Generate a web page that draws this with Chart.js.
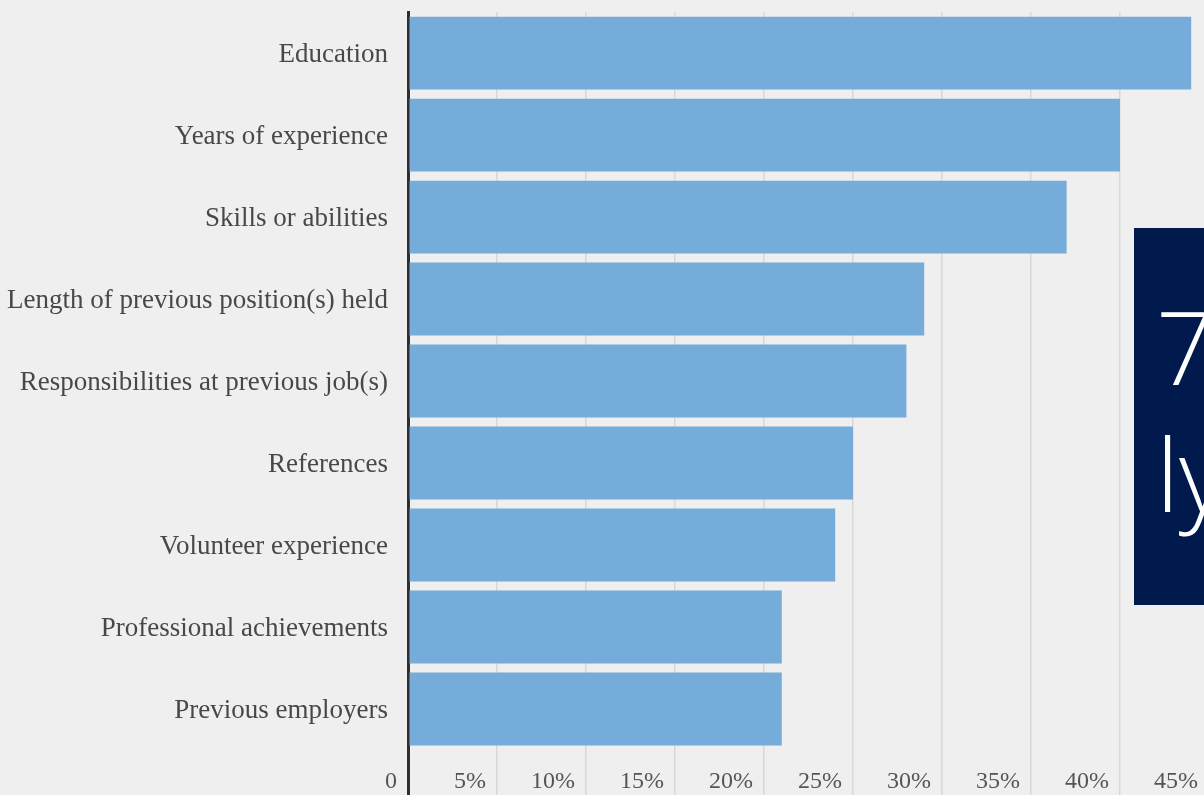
<!DOCTYPE html>
<html>
<head>
<meta charset="utf-8">
<script src="https://cdn.jsdelivr.net/npm/chart.js@4.4.1/dist/chart.umd.min.js"></script>
<style>
  html, body { margin: 0; padding: 0; background: #efefef; overflow: hidden; }
  #wrap { position: absolute; left: 0; top: 0; width: 1214px; height: 795px; }
  #overlay {
    position: absolute; left: 1134px; top: 228px; width: 120px; height: 377px;
    background: #001a4e; color: #fff; font-family: "Open Sans", sans-serif;
    font-weight: 300; font-size: 102px; line-height: 127px;
    padding-top: 54px; padding-left: 22px; box-sizing: border-box; overflow: hidden;
  }
</style>
</head>
<body>
<div id="wrap"><canvas id="chartInformation"></canvas></div>
<div id="overlay">7<br>ly</div>
<script>
const categories = [
  "Education",
  "Years of experience",
  "Skills or abilities",
  "Length of previous position(s) held",
  "Responsibilities at previous job(s)",
  "References",
  "Volunteer experience",
  "Professional achievements",
  "Previous employers",
];
const shares = [44, 40, 37, 29, 28, 25, 24, 21, 21];
const tickValues = [0, 5, 10, 15, 20, 25, 30, 35, 40, 45];

const chart = new Chart("chartInformation", {
  type: "bar",
  data: {
    labels: categories,
    datasets: [
      {
        label: "Share",
        data: shares,
        backgroundColor: "#75acda",
        borderWidth: 0,
        categoryPercentage: 1,
        barPercentage: 0.89,
      },
    ],
  },
  options: {
    indexAxis: "y",
    responsive: true,
    maintainAspectRatio: false,
    animation: false,
    layout: { padding: { top: 12, left: 0, right: 5, bottom: 0 } },
    plugins: {
      legend: { display: false },
      tooltip: { enabled: false },
    },
    scales: {
      x: {
        min: 0,
        max: 45,
        afterBuildTicks: (scale) => {
          scale.ticks = tickValues.map((v) => ({ value: v }));
        },
        // room for the long tick marks and the labels below the bars
        afterFit: (scale) => {
          scale.height = 45;
        },
        border: { display: false },
        grid: {
          color: (ctx) => (ctx.tick && ctx.tick.value === 0 ? "#2f2f2f" : "#d8d8d8"),
          lineWidth: (ctx) => (ctx.tick && ctx.tick.value === 0 ? 3 : 1.5),
          tickLength: 45,
        },
        ticks: {
          align: "end",
          labelOffset: -11,
          padding: -28,
          color: "#555",
          font: { family: "Liberation Serif", size: 24 },
          callback: (v) => (v === 0 ? "0" : v + "%"),
        },
      },
      y: {
        z: 1,
        afterFit: (scale) => {
          scale.width = 408;
        },
        border: { display: true, color: "#2f2f2f", width: 3 },
        grid: {
          drawOnChartArea: false,
          tickLength: 20,
          tickColor: "rgba(0,0,0,0)",
        },
        ticks: {
          padding: 0,
          labelOffset: 2,
          color: "#484848",
          font: { family: "Liberation Serif", size: 27, lineHeight: 0.9 },
        },
      },
    },
  },
});
</script>
</body>
</html>
